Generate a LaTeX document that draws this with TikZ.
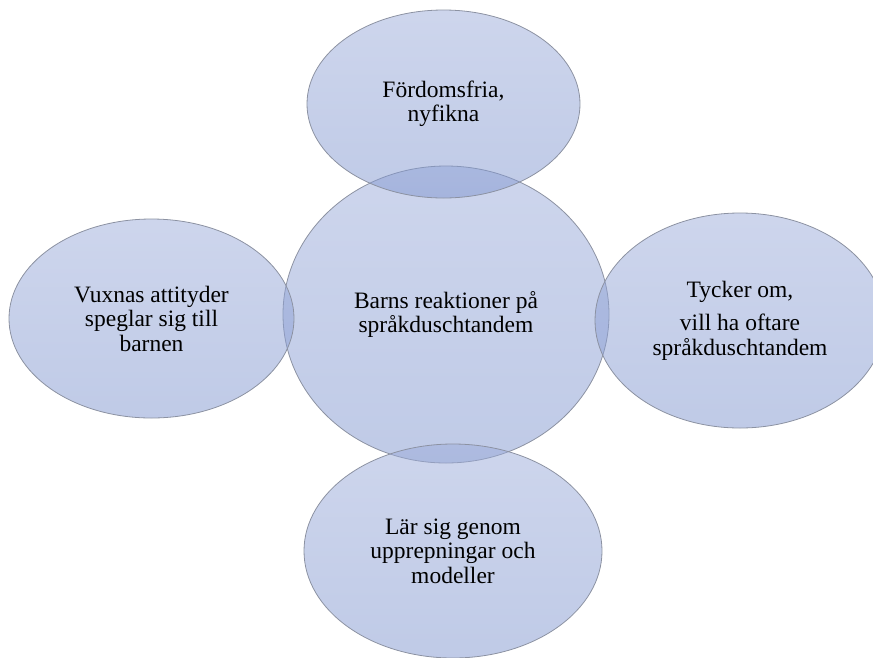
\documentclass[tikz,border=0pt]{standalone}
\usepackage{fontspec}
\setmainfont{Liberation Serif}
\newfontfamily\bubblefont{Liberation Serif}
\usetikzlibrary{shapes.geometric}
\definecolor{bubbletop}{RGB}{156,172,218}
\definecolor{bubblebot}{RGB}{128,150,207}
\definecolor{bordergray}{RGB}{140,146,162}
\begin{document}
\begin{tikzpicture}[x=1pt,y=-1pt,
  bubble/.style={ellipse, draw=bordergray, line width=0.8pt,
    top color=bubbletop, bottom color=bubblebot,
    fill opacity=0.5, text opacity=1, inner sep=0pt, align=center,
    font=\bubblefont\fontsize{23.5}{24.5}\selectfont, text=black}]
\useasboundingbox (0,0) rectangle (873,657);
\node[bubble, minimum width=326pt, minimum height=297pt] (center) at (446,314.5) {Barns reaktioner på\\språkduschtandem};
\node[bubble, minimum width=273pt, minimum height=188pt] (top) at (443.5,104) {Fördomsfria,\\nyfikna};
\node[bubble, minimum width=285pt, minimum height=199pt] (left) at (151.5,318.5) {Vuxnas attityder\\speglar sig till\\barnen};
\node[bubble, minimum width=290pt, minimum height=215pt] (right) at (740,320.5) {Tycker om,\\[9pt]vill ha oftare\\språkduschtandem};
\node[bubble, minimum width=298pt, minimum height=214pt] (bottom) at (453,551) {Lär sig genom\\upprepningar och\\modeller};
\end{tikzpicture}
\end{document}
